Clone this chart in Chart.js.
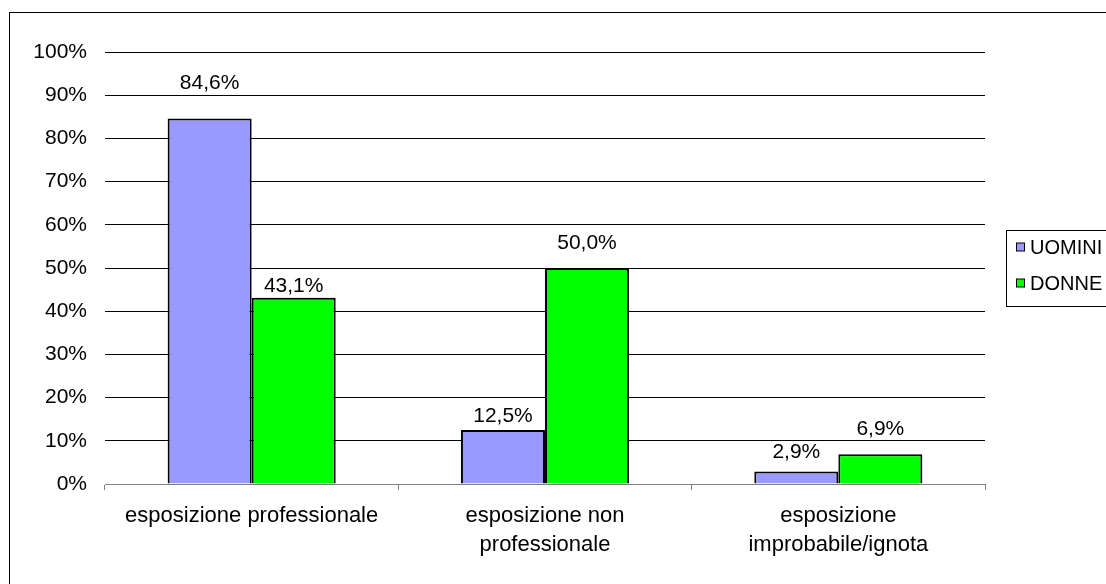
<!DOCTYPE html>
<html>
<head>
<meta charset="utf-8">
<script src="https://cdn.jsdelivr.net/npm/chart.js@4/dist/chart.umd.min.js"></script>
<style>
  html, body { margin: 0; padding: 0; background: #fff; overflow: hidden; width: 1106px; height: 584px; }
  #wrap { position: absolute; left: 0; top: 0; width: 1180px; height: 620px; }
</style>
</head>
<body>
<div id="wrap"><canvas id="c" width="1180" height="620"></canvas></div>
<script>
const categories = [
  ["esposizione professionale"],
  ["esposizione non", "professionale"],
  ["esposizione", "improbabile/ignota"]
];
const seriesNames = ["UOMINI", "DONNE"];
const uomini = [84.6, 12.5, 2.9];
const donne = [43.1, 50.0, 6.9];
const yTicks = [0, 10, 20, 30, 40, 50, 60, 70, 80, 90, 100];

const FONT = "'Liberation Sans', Arial, sans-serif";

const framePlugin = {
  id: 'frame',
  beforeDraw(chart) {
    const ctx = chart.ctx;
    ctx.save();
    ctx.fillStyle = '#fff';
    ctx.fillRect(0, 0, chart.width, chart.height);
    ctx.strokeStyle = '#000';
    ctx.lineWidth = 1;
    ctx.strokeRect(9.5, 12.5, chart.width, chart.height);
    ctx.restore();
  }
};

const valueLabels = {
  id: 'valueLabels',
  afterDatasetsDraw(chart, args, opts) {
    const ctx = chart.ctx;
    ctx.save();
    ctx.font = '21px ' + FONT;
    ctx.fillStyle = '#000';
    ctx.textAlign = 'center';
    ctx.textBaseline = 'alphabetic';
    chart.data.datasets.forEach((ds, di) => {
      const meta = chart.getDatasetMeta(di);
      meta.data.forEach((el, i) => {
        const v = ds.data[i];
        const txt = v.toFixed(1).replace('.', ',') + '%';
        const off = opts.offsets[di][i];
        ctx.fillText(txt, el.x, el.y - off);
      });
    });
    ctx.restore();
  }
};

const boxLegend = {
  id: 'boxLegend',
  afterDraw(chart, args, opts) {
    const ctx = chart.ctx;
    ctx.save();
    ctx.strokeStyle = '#000';
    ctx.lineWidth = 1;
    ctx.fillStyle = '#fff';
    ctx.fillRect(opts.x + 0.5, opts.y + 0.5, opts.w, opts.h);
    ctx.strokeRect(opts.x + 0.5, opts.y + 0.5, opts.w, opts.h);
    ctx.font = '20px ' + FONT;
    ctx.textBaseline = 'middle';
    ctx.textAlign = 'left';
    chart.data.datasets.forEach((ds, i) => {
      const cy = opts.y + opts.first + i * opts.gap;
      ctx.fillStyle = ds.backgroundColor;
      ctx.fillRect(opts.x + 10.5, cy - 4, 8, 8);
      ctx.strokeRect(opts.x + 10.5, cy - 4, 8, 8);
      ctx.fillStyle = '#000';
      ctx.fillText(ds.label, opts.x + 24, cy + 1);
    });
    ctx.restore();
  }
};

new Chart(document.getElementById('c'), {
  type: 'bar',
  data: {
    labels: categories,
    datasets: [
      { label: seriesNames[0], data: uomini, backgroundColor: '#9999FF', borderColor: '#000', borderWidth: 2 },
      { label: seriesNames[1], data: donne, backgroundColor: '#00FF00', borderColor: '#000', borderWidth: 2 }
    ]
  },
  options: {
    responsive: false,
    animation: false,
    devicePixelRatio: 1,
    layout: { padding: { left: 0, top: 52, right: 195, bottom: 0 } },
    datasets: { bar: { categoryPercentage: 0.573, barPercentage: 1.0 } },
    plugins: {
      legend: { display: false },
      tooltip: { enabled: false },
      valueLabels: { offsets: [[30, 8, 13], [6, 19, 19]] },
      boxLegend: { x: 1006, y: 230, w: 160, h: 76, first: 17, gap: 36 }
    },
    scales: {
      x: {
        afterFit(s) { s.height = 620 - 484; },
        grid: { offset: true, drawOnChartArea: false, drawTicks: true, tickLength: 6, color: '#808080', lineWidth: 1 },
        border: { display: true, color: '#808080', width: 1 },
        ticks: { color: '#000', font: { family: FONT, size: 22, lineHeight: 1.34 }, padding: 11, autoSkip: false, maxRotation: 0 }
      },
      y: {
        min: 0, max: 100,
        afterFit(s) { s.width = 105; },
        afterBuildTicks(s) { s.ticks = yTicks.map(v => ({ value: v })); },
        grid: {
          drawTicks: false,
          color: (c) => (c.tick && c.tick.value === 0) ? 'rgba(0,0,0,0)' : '#000',
          lineWidth: 1
        },
        border: { display: false },
        ticks: { color: '#000', padding: 18, font: { family: FONT, size: 21 }, callback: (v) => v + '%' }
      }
    }
  },
  plugins: [framePlugin, valueLabels, boxLegend]
});
</script>
</body>
</html>
